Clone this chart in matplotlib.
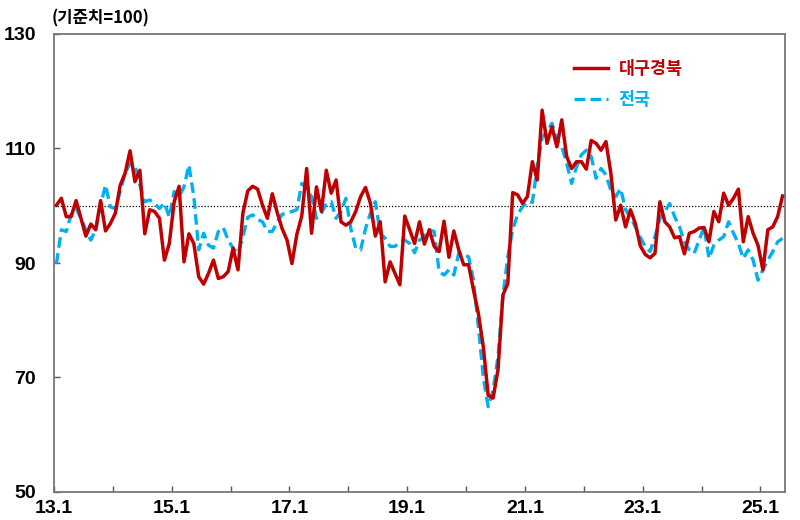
import matplotlib
matplotlib.use("Agg")
import matplotlib.pyplot as plt
from matplotlib.ticker import FixedLocator, NullLocator

# ---- data ----
years = list(range(2013, 2026))
tick_labels = ['13.1', '', '15.1', '', '17.1', '', '19.1', '', '21.1', '', '23.1', '', '25.1']

daegu = [100.1, 101.3, 98.1, 98.1, 100.9, 97.8, 94.7, 96.8, 95.8, 100.9, 95.6, 96.9,
         98.7, 103.6, 105.7, 109.6, 104.2, 106.2, 95.1, 99.3, 99.0, 97.8, 90.5, 93.4,
         100.7, 103.4, 90.2, 95.1, 93.4, 87.6, 86.3, 88.2, 90.5, 87.3, 87.6, 88.5,
         92.6, 88.8, 98.7, 102.6, 103.4, 102.9, 100.1, 97.8, 102.1, 98.8, 96.0, 94.0,
         89.9, 95.0, 98.2, 106.5, 95.2, 103.3, 99.0, 106.2, 102.2, 104.5, 97.2, 96.6,
         97.2, 99.0, 101.6, 103.2, 100.4, 94.7, 97.2, 86.7, 90.2, 88.2, 86.2, 98.2,
         95.8, 93.4, 97.2, 93.3, 95.8, 92.9, 92.0, 97.3, 91.0, 95.6, 92.3, 89.7,
         89.7, 85.3, 81.2, 75.4, 66.9, 66.4, 71.3, 84.4, 86.4, 102.3, 101.9, 100.4,
         101.6, 107.7, 104.5, 116.7, 110.9, 113.8, 110.3, 115.0, 108.6, 106.5, 107.7, 107.7,
         106.4, 111.4, 110.9, 109.7, 111.2, 105.7, 97.5, 100.1, 96.3, 99.3, 96.9, 93.0,
         91.5, 90.9, 91.7, 100.7, 97.2, 96.3, 94.4, 94.6, 91.6, 95.2, 95.5, 96.1,
         96.2, 93.7, 99.0, 97.2, 102.2, 100.1, 101.3, 102.9, 93.7, 98.1, 95.2, 93.1,
         88.8, 95.8, 96.3, 98.1, 101.7]

national = [89.9, 95.8, 95.5, 98.5, 99.5, 97.8, 95.8, 94.0, 95.8, 100.1, 103.6, 99.8,
            99.5, 102.5, 105.7, 107.4, 107.1, 103.6, 100.7, 101.0, 100.4, 99.5, 100.5, 98.0,
            102.5, 101.6, 103.3, 107.1, 101.6, 92.3, 95.2, 93.1, 92.6, 95.5, 96.2, 94.0,
            92.6, 91.7, 94.6, 98.0, 98.4, 97.6, 97.2, 95.5, 95.5, 97.2, 98.5, 98.7,
            99.0, 99.3, 103.9, 103.0, 101.6, 97.8, 98.7, 100.4, 100.7, 97.8, 99.0, 101.3,
            96.0, 92.6, 92.3, 96.0, 98.7, 100.7, 95.2, 94.3, 92.9, 92.9, 93.7, 94.0,
            93.4, 91.8, 94.0, 94.6, 95.8, 95.5, 88.5, 87.9, 88.8, 87.9, 91.7, 91.4,
            91.1, 87.0, 78.9, 70.1, 64.9, 67.8, 73.6, 84.1, 91.1, 95.8, 98.5, 99.8,
            100.7, 100.6, 106.8, 112.0, 113.0, 114.4, 111.5, 110.3, 107.4, 103.9, 106.8, 108.9,
            109.7, 108.6, 104.8, 106.5, 105.4, 102.7, 101.6, 103.0, 99.3, 98.0, 96.3, 94.5,
            92.9, 92.0, 94.6, 97.8, 99.0, 100.4, 98.1, 96.3, 93.7, 92.3, 91.7, 94.0,
            96.3, 90.8, 93.1, 94.0, 94.6, 97.2, 95.2, 93.4, 90.8, 92.3, 90.5, 87.0,
            88.8, 90.5, 92.0, 93.7, 94.3]

series_names = ['대구경북', '전국']
baseline = 100
y_ticks = [50, 70, 90, 110, 130]

# ---- style ----
RED = '#C00000'
BLUE = '#00B0F0'
KFONT = ['Noto Sans CJK KR', 'DejaVu Sans']
NFONT = ['Liberation Sans', 'DejaVu Sans']

fig = plt.figure(figsize=(8, 5.2), dpi=100)
ax = fig.add_axes([54 / 800, 1 - 492 / 520, (785 - 54) / 800, (492 - 34) / 520])

n = len(daegu)
x = list(range(n))

ax.axhline(baseline, color='black', linestyle=(0, (1, 1.5)), linewidth=0.9, zorder=1)
line_nat, = ax.plot(x, national, color=BLUE, linewidth=2.4, linestyle=(0, (3.2, 1.6)),
                    label=series_names[1], zorder=2)
line_dg, = ax.plot(x, daegu, color=RED, linewidth=2.5, label=series_names[0], zorder=3)

ax.set_xlim(-0.5, n - 0.5)
ax.set_ylim(50, 130)

tick_pos = [12 * k - 0.5 for k in range(len(years))]
ax.xaxis.set_major_locator(FixedLocator(tick_pos))
ax.set_xticklabels(tick_labels)
ax.xaxis.set_minor_locator(NullLocator())
ax.set_yticks(y_ticks)

ax.tick_params(axis='x', direction='in', length=4, width=1, color='#555555', pad=6,
               labelsize=14)
ax.tick_params(axis='y', direction='in', length=4, width=1, color='#555555', pad=13,
               labelsize=14)
for lab in ax.get_xticklabels() + ax.get_yticklabels():
    lab.set_fontfamily(NFONT)
    lab.set_fontweight('bold')

for s in ax.spines.values():
    s.set_color('#777777')
    s.set_linewidth(1.3)

fig.text(52 / 800, 1 - 18 / 520, '(기준치=100)', family=KFONT, fontweight='bold',
         fontsize=12, ha='left', va='center')

leg = ax.legend([line_dg, line_nat], series_names, loc='upper left',
                bbox_to_anchor=(558 / 800, 1 - 44 / 520), bbox_transform=fig.transFigure,
                frameon=False, prop={'family': KFONT, 'weight': 'bold', 'size': 12.5},
                handlelength=2.0, handletextpad=0.6, labelspacing=0.75)
for txt, col in zip(leg.get_texts(), [RED, BLUE]):
    txt.set_color(col)

fig.savefig('out.png', dpi=100)
